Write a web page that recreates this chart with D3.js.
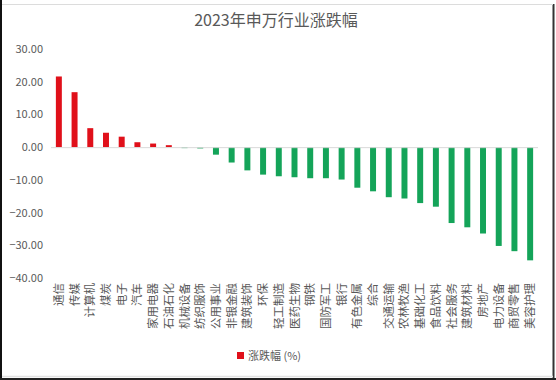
<!DOCTYPE html>
<html>
<head>
<meta charset="utf-8">
<script src="https://cdn.jsdelivr.net/npm/d3@7"></script>
<style>
html,body{margin:0;padding:0;background:#fff;}
svg{display:block;}
text{font-family:"Noto Sans CJK SC","Noto Sans",sans-serif;}
</style>
</head>
<body>
<svg id="chart" width="556" height="380"></svg>
<script>
const categories = ["通信","传媒","计算机","煤炭","电子","汽车","家用电器","石油石化","机械设备","纺织服饰","公用事业","非银金融","建筑装饰","环保","轻工制造","医药生物","钢铁","国防军工","银行","有色金属","综合","交通运输","农林牧渔","基础化工","食品饮料","社会服务","建筑材料","房地产","电力设备","商贸零售","美容护理"];
const values = [21.6,16.8,5.8,4.4,3.2,1.5,1.1,0.6,-0.3,-0.4,-2.3,-4.7,-7.1,-8.4,-8.9,-9.2,-9.5,-9.5,-9.9,-12.4,-13.5,-15.3,-15.7,-17.1,-18.2,-23.2,-24.5,-26.4,-30.2,-31.8,-34.6];
const yTicks = [30,20,10,0,-10,-20,-30,-40];
const title = "2023年申万行业涨跌幅";
const legendLabel = "涨跌幅 (%)";

const svg = d3.select("#chart");
const W = 556, H = 380;

// frame
svg.append("rect").attr("x",0).attr("y",0).attr("width",W).attr("height",H).attr("fill","#fff");
svg.append("line").attr("x1",1).attr("x2",1).attr("y1",0).attr("y2",H).attr("stroke","#111").attr("stroke-width",2);
svg.append("line").attr("x1",553.5).attr("x2",553.5).attr("y1",4).attr("y2",H).attr("stroke","#333").attr("stroke-width",2);
svg.append("line").attr("x1",0).attr("x2",W).attr("y1",379).attr("y2",379).attr("stroke","#222").attr("stroke-width",2);
svg.append("line").attr("x1",2).attr("x2",553).attr("y1",376.5).attr("y2",376.5).attr("stroke","#e2e2e2").attr("stroke-width",1.5);
svg.append("line").attr("x1",2).attr("x2",553).attr("y1",4.5).attr("y2",4.5).attr("stroke","#dcdcdc").attr("stroke-width",1);

const x = d3.scaleBand().domain(categories).range([51,538]).paddingInner(0.62).paddingOuter(0.31);
const y = d3.scaleLinear().domain([-40,30]).range([278,49]);

// title
svg.append("text").attr("x",276).attr("y",26).attr("text-anchor","middle")
  .attr("font-size",16).attr("fill","#595959").text(title);

// y axis labels
const yAxis = d3.axisLeft(y).tickValues(yTicks).tickFormat(d3.format(".2f")).tickSize(0).tickPadding(0);
const yg = svg.append("g").attr("transform","translate(43,0)").call(yAxis);
yg.select(".domain").remove();
yg.selectAll("text").attr("font-size",11).attr("fill","#595959")
  .style("font-family","'Noto Sans CJK SC','Noto Sans',sans-serif");

// bars
svg.append("g").selectAll("rect").data(values).join("rect")
  .attr("x",(d,i)=>x(categories[i]))
  .attr("width",x.bandwidth())
  .attr("y",d=>y(Math.max(0,d)))
  .attr("height",d=>Math.abs(y(d)-y(0)))
  .attr("fill",d=>d>=0?"#E0101A":"#14A459");

// zero line
svg.append("line").attr("x1",51).attr("x2",538).attr("y1",y(0)+0.5).attr("y2",y(0)+0.5)
  .attr("stroke","#d9d9d9").attr("stroke-width",1);

// x axis labels
const xAxis = d3.axisBottom(x).tickSize(0).tickPadding(0);
const xg = svg.append("g").attr("transform","translate(0,283)").call(xAxis);
xg.select(".domain").remove();
xg.selectAll("text")
  .attr("transform","rotate(-90)")
  .attr("text-anchor","end")
  .attr("x",0).attr("y",0).attr("dy","0.35em")
  .attr("font-size",11.5).attr("fill","#595959")
  .style("font-family","'Noto Sans CJK SC','Noto Sans',sans-serif");

// legend
svg.append("rect").attr("x",237).attr("y",352).attr("width",7).attr("height",7).attr("fill","#E0101A");
svg.append("text").attr("x",248).attr("y",359.5).attr("font-size",11).attr("fill","#595959").text(legendLabel);
</script>
</body>
</html>
